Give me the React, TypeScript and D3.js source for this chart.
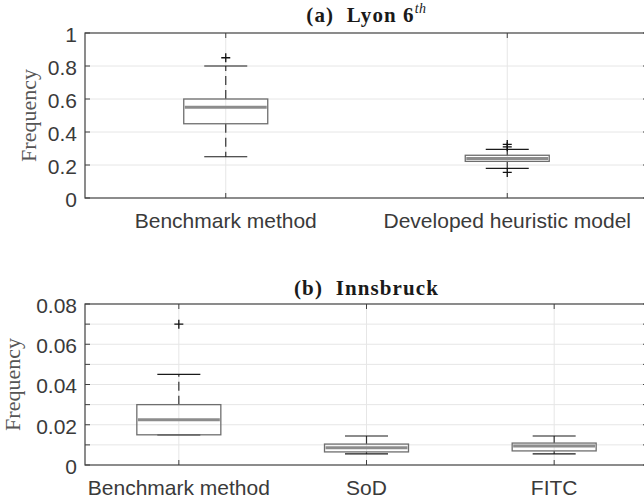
import React, { useEffect, useRef } from 'react';
import * as d3 from 'd3';

// (a) Lyon 6th
const lyonCategories = ['Benchmark method', 'Developed heuristic model'];
const lyonQ1 = [0.45, 0.222];
const lyonMedian = [0.55, 0.24];
const lyonQ3 = [0.6, 0.259];
const lyonLow = [0.25, 0.18];
const lyonHigh = [0.8, 0.295];
const lyonOutliers = [[0.85], [0.325, 0.31, 0.155]];
const lyonTicks = [0, 0.2, 0.4, 0.6, 0.8, 1];
const lyonTickLabels = ['0', '0.2', '0.4', '0.6', '0.8', '1'];

// (b) Innsbruck
const innsCategories = ['Benchmark method', 'SoD', 'FITC'];
const innsQ1 = [0.015, 0.0065, 0.007];
const innsMedian = [0.0225, 0.0086, 0.0095];
const innsQ3 = [0.03, 0.0104, 0.0109];
const innsLow = [0.015, 0.0055, 0.0055];
const innsHigh = [0.045, 0.0144, 0.0144];
const innsOutliers = [[0.07], [], []];
const innsTicks = [0, 0.01, 0.02, 0.03, 0.04, 0.05, 0.06, 0.07, 0.08];
const innsLabelTicks = [0, 0.02, 0.04, 0.06, 0.08];
const innsTickLabels = ['0', '0.02', '0.04', '0.06', '0.08'];

type Panel = {
  categories: string[];
  q1: number[];
  median: number[];
  q3: number[];
  low: number[];
  high: number[];
  outliers: number[][];
  ticks: number[];
  tickLabels: string[];
  labelTicks: number[];
  yMax: number;
  top: number;
  bottom: number;
  titleY: number;
  titleMain: string;
  titleSup?: string;
  yLabelX: number;
};

export default function App() {
  const svgRef = useRef<SVGSVGElement>(null);

  useEffect(() => {
    if (!svgRef.current) return;
    const svg = d3.select(svgRef.current);
    svg.selectAll('*').remove();

    const width = 644;
    const height = 504;
    svg.attr('width', width).attr('height', height);

    const left = 85;
    const right = 648;
    const boxW = 84;
    const capW = 43;
    const axisColor = '#404040';
    const sans = '"Liberation Sans", Arial, Helvetica, sans-serif';
    const serif = '"Liberation Serif", "Times New Roman", serif';

    const panels: Panel[] = [
      {
        categories: lyonCategories, q1: lyonQ1, median: lyonMedian, q3: lyonQ3,
        low: lyonLow, high: lyonHigh, outliers: lyonOutliers,
        ticks: lyonTicks, tickLabels: lyonTickLabels, labelTicks: lyonTicks,
        yMax: 1, top: 33, bottom: 198, titleY: 22,
        titleMain: '(a)  Lyon 6', titleSup: 'th', yLabelX: 36,
      },
      {
        categories: innsCategories, q1: innsQ1, median: innsMedian, q3: innsQ3,
        low: innsLow, high: innsHigh, outliers: innsOutliers,
        ticks: innsTicks, tickLabels: innsTickLabels, labelTicks: innsLabelTicks,
        yMax: 0.08, top: 304, bottom: 465, titleY: 295,
        titleMain: '(b)  Innsbruck', yLabelX: 19.5,
      },
    ];

    panels.forEach((p) => {
      const n = p.categories.length;
      const x = d3.scaleLinear().domain([0.5, n + 0.5]).range([left, right]);
      const y = d3.scaleLinear().domain([0, p.yMax]).range([p.bottom, p.top]);
      const idx = d3.range(n);
      const g = svg.append('g');

      // grid
      g.selectAll('.hgrid')
        .data(p.ticks.filter((t) => t > 0 && t < p.yMax))
        .enter().append('line')
        .attr('x1', left).attr('x2', right)
        .attr('y1', (d) => y(d)).attr('y2', (d) => y(d))
        .attr('stroke', '#e6e6e6').attr('stroke-width', 1);
      g.selectAll('.vgrid')
        .data(idx)
        .enter().append('line')
        .attr('x1', (i) => x(i + 1)).attr('x2', (i) => x(i + 1))
        .attr('y1', p.top).attr('y2', p.bottom)
        .attr('stroke', '#e6e6e6').attr('stroke-width', 1);

      // whiskers (dashed), caps, boxes, medians, outliers
      idx.forEach((i) => {
        const cx = x(i + 1);
        if (p.high[i] > p.q3[i]) {
          g.append('line')
            .attr('x1', cx).attr('x2', cx)
            .attr('y1', y(p.q3[i])).attr('y2', y(p.high[i]))
            .attr('stroke', '#333').attr('stroke-width', 1.2)
            .attr('stroke-dasharray', '9,5');
        }
        if (p.low[i] < p.q1[i]) {
          g.append('line')
            .attr('x1', cx).attr('x2', cx)
            .attr('y1', y(p.q1[i])).attr('y2', y(p.low[i]))
            .attr('stroke', '#333').attr('stroke-width', 1.2)
            .attr('stroke-dasharray', '9,5');
        }
        [p.low[i], p.high[i]].forEach((v) => {
          g.append('line')
            .attr('x1', cx - capW / 2).attr('x2', cx + capW / 2)
            .attr('y1', y(v)).attr('y2', y(v))
            .attr('stroke', '#1a1a1a').attr('stroke-width', 1.2);
        });
        g.append('rect')
          .attr('x', cx - boxW / 2)
          .attr('y', y(p.q3[i]))
          .attr('width', boxW)
          .attr('height', y(p.q1[i]) - y(p.q3[i]))
          .attr('fill', 'none')
          .attr('stroke', '#6e6e6e').attr('stroke-width', 1.3);
        g.append('line')
          .attr('x1', cx - boxW / 2 + 1).attr('x2', cx + boxW / 2 - 1)
          .attr('y1', y(p.median[i])).attr('y2', y(p.median[i]))
          .attr('stroke', '#8c8c8c').attr('stroke-width', 3);
        p.outliers[i].forEach((v) => {
          const oy = y(v);
          g.append('path')
            .attr('d', `M${cx - 4.5},${oy}H${cx + 4.5}M${cx},${oy - 4.5}V${oy + 4.5}`)
            .attr('stroke', '#111').attr('stroke-width', 1.3).attr('fill', 'none');
        });
      });

      // axes frame
      g.append('rect')
        .attr('x', left).attr('y', p.top)
        .attr('width', right - left).attr('height', p.bottom - p.top)
        .attr('fill', 'none').attr('stroke', axisColor).attr('stroke-width', 1.2);

      // ticks
      const tl = 5;
      p.ticks.forEach((t) => {
        g.append('line').attr('x1', left).attr('x2', left + tl)
          .attr('y1', y(t)).attr('y2', y(t)).attr('stroke', axisColor);
        g.append('line').attr('x1', right).attr('x2', right - tl)
          .attr('y1', y(t)).attr('y2', y(t)).attr('stroke', axisColor);
      });
      idx.forEach((i) => {
        g.append('line').attr('x1', x(i + 1)).attr('x2', x(i + 1))
          .attr('y1', p.bottom).attr('y2', p.bottom - tl).attr('stroke', axisColor);
        g.append('line').attr('x1', x(i + 1)).attr('x2', x(i + 1))
          .attr('y1', p.top).attr('y2', p.top + tl).attr('stroke', axisColor);
      });

      // tick labels
      g.selectAll('.ylab')
        .data(p.labelTicks)
        .enter().append('text')
        .attr('x', 77)
        .attr('y', (d) => y(d) + 1.5)
        .attr('dy', '0.35em')
        .attr('text-anchor', 'end')
        .style('font-family', sans)
        .style('font-size', '21px')
        .attr('fill', '#3a3a3a')
        .text((d, k) => p.tickLabels[k]);

      g.selectAll('.xlab')
        .data(p.categories)
        .enter().append('text')
        .attr('x', (d, i) => x(i + 1))
        .attr('y', p.bottom + 30)
        .attr('text-anchor', 'middle')
        .style('font-family', sans)
        .style('font-size', '21px')
        .attr('fill', '#3a3a3a')
        .text((d) => d);

      // y label
      svg.append('text')
        .attr('transform', `translate(${p.yLabelX},${(p.top + p.bottom) / 2}) rotate(-90)`)
        .attr('text-anchor', 'middle')
        .style('font-family', serif)
        .style('font-size', '22px')
        .attr('fill', '#555')
        .text('Frequency');

      // title
      const title = svg.append('text')
        .attr('x', (left + right) / 2)
        .attr('y', p.titleY)
        .attr('text-anchor', 'middle')
        .style('font-family', serif)
        .style('font-size', '21px')
        .style('font-weight', 'bold')
        .style('letter-spacing', '1.1px')
        .style('white-space', 'pre')
        .attr('fill', '#1a1a1a');
      title.append('tspan').text(p.titleMain);
      if (p.titleSup) {
        title.append('tspan')
          .attr('dy', -9)
          .style('font-size', '14px')
          .style('font-style', 'italic')
          .style('font-weight', 'normal')
          .style('letter-spacing', '0.5px')
          .text(p.titleSup);
      }
    });
  }, []);

  return (
    <div style={{ position: 'absolute', left: 0, top: 0 }}>
      <svg ref={svgRef} style={{ display: 'block', background: '#fff' }}></svg>
    </div>
  );
}
